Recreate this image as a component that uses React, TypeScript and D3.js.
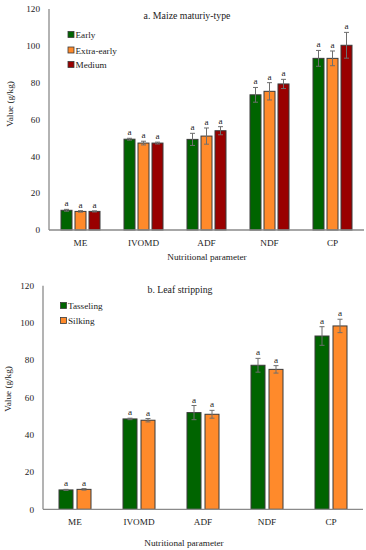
import React from "react";
import * as d3 from "d3";

const categories = ["ME", "IVOMD", "ADF", "NDF", "CP"];
const yTicks = [0, 20, 40, 60, 80, 100, 120];

const seriesA = ["Early", "Extra-early", "Medium"];
const earlyVals = [10.7, 49.3, 49.2, 73.4, 93.2];
const earlyErr = [0.5, 0.5, 3.3, 4.0, 4.3];
const extraEarlyVals = [10.1, 47.2, 51.0, 75.3, 93.2];
const extraEarlyErr = [0.4, 1.0, 4.4, 4.7, 4.0];
const mediumVals = [10.1, 47.2, 53.9, 79.3, 100.3];
const mediumErr = [0.3, 0.5, 2.2, 2.5, 7.0];

const seriesB = ["Tasseling", "Silking"];
const tasselingVals = [10.4, 48.5, 51.9, 77.3, 93.0];
const tasselingErr = [0.3, 0.4, 3.8, 3.7, 5.0];
const silkingVals = [10.7, 47.8, 51.0, 75.1, 98.4];
const silkingErr = [0.4, 0.9, 2.1, 2.0, 3.6];

const GREEN = "#006400";
const ORANGE = "#FF8A2B";
const RED = "#990000";
const FONT = "'Liberation Serif', 'DejaVu Serif', serif";

type Series = { name: string; vals: number[]; err: number[]; color: string };

function Panel(props: {
  title: string;
  titleX: number;
  titleY: number;
  x0: number;
  x1: number;
  yTop: number;
  yBottom: number;
  series: Series[];
  barW: number;
  step: number;
  legendX: number;
  legendY: number[];
  yTitleX: number;
  yTitleY: number;
  tickLabelY: number;
  xTitleY: number;
  xTitleX: number;
}) {
  const p = props;
  const x = d3.scaleBand<string>().domain(categories).range([p.x0, p.x1]);
  const y = d3.scaleLinear().domain([0, 120]).range([p.yBottom, p.yTop]);
  const n = p.series.length;
  return (
    <g fontFamily={FONT} fill="#222">
      {yTicks.map((t) => (
        <text key={t} x={p.x0 - 9} y={y(t) + 3.2} fontSize={9.2} textAnchor="end">
          {t}
        </text>
      ))}
      {p.series.map((s, si) =>
        categories.map((c, ci) => {
          const cx = x(c)! + x.bandwidth() / 2 + (si - (n - 1) / 2) * p.step;
          const v = s.vals[ci];
          const e = s.err[ci];
          return (
            <g key={c + si}>
              <rect
                x={cx - p.barW / 2}
                y={y(v)}
                width={p.barW}
                height={y(0) - y(v)}
                fill={s.color}
                stroke="#3a3a3a"
                strokeWidth={1}
              />
              <line x1={cx} x2={cx} y1={y(v + e)} y2={y(v - e)} stroke="#6e6e6e" strokeWidth={1} />
              <line x1={cx - 2.5} x2={cx + 2.5} y1={y(v + e)} y2={y(v + e)} stroke="#6e6e6e" strokeWidth={1} />
              <line x1={cx - 2.5} x2={cx + 2.5} y1={y(v - e)} y2={y(v - e)} stroke="#6e6e6e" strokeWidth={1} />
              <text x={cx} y={y(v + e) - 3} fontSize={9.2} textAnchor="middle">
                a
              </text>
            </g>
          );
        })
      )}
      <line x1={p.x0} x2={p.x0} y1={p.yTop} y2={p.yBottom} stroke="#8a8a8a" strokeWidth={1.3} />
      <line x1={p.x0} x2={p.x1} y1={p.yBottom} y2={p.yBottom} stroke="#8a8a8a" strokeWidth={1.3} />
      {categories.map((c) => (
        <text key={c} x={x(c)! + x.bandwidth() / 2} y={p.tickLabelY} fontSize={9.2} textAnchor="middle">
          {c}
        </text>
      ))}
      <text x={p.xTitleX} y={p.xTitleY} fontSize={9.2} textAnchor="middle">
        Nutritional parameter
      </text>
      <text
        transform={`translate(${p.yTitleX},${p.yTitleY}) rotate(-90)`}
        fontSize={9.2}
        textAnchor="middle"
      >
        Value (g/kg)
      </text>
      <text x={p.titleX} y={p.titleY} fontSize={9.8} textAnchor="middle">
        {p.title}
      </text>
      {p.series.map((s, i) => (
        <g key={s.name}>
          <rect x={p.legendX} y={p.legendY[i] - 3.5} width={6} height={6} fill={s.color} stroke="#3a3a3a" strokeWidth={0.8} />
          <text x={p.legendX + 7.5} y={p.legendY[i] + 3.2} fontSize={9.2}>
            {s.name}
          </text>
        </g>
      ))}
    </g>
  );
}

export default function App() {
  const sA: Series[] = [
    { name: seriesA[0], vals: earlyVals, err: earlyErr, color: GREEN },
    { name: seriesA[1], vals: extraEarlyVals, err: extraEarlyErr, color: ORANGE },
    { name: seriesA[2], vals: mediumVals, err: mediumErr, color: RED },
  ];
  const sB: Series[] = [
    { name: seriesB[0], vals: tasselingVals, err: tasselingErr, color: GREEN },
    { name: seriesB[1], vals: silkingVals, err: silkingErr, color: ORANGE },
  ];
  return (
    <svg
      width={366}
      height={550}
      style={{ position: "absolute", left: 0, top: 0, background: "#fff" }}
    >
      <rect width={366} height={550} fill="#fff" />
      <Panel
        title="a. Maize maturiy-type"
        titleX={187}
        titleY={18.5}
        x0={49}
        x1={364}
        yTop={9}
        yBottom={230}
        series={sA}
        barW={11}
        step={14}
        legendX={68}
        legendY={[35, 50.5, 65]}
        yTitleX={13}
        yTitleY={104}
        tickLabelY={246}
        xTitleY={260}
        xTitleX={207}
      />
      <Panel
        title="b. Leaf stripping"
        titleX={180}
        titleY={292.5}
        x0={43}
        x1={363}
        yTop={285.7}
        yBottom={509.3}
        series={sB}
        barW={14}
        step={18}
        legendX={60.5}
        legendY={[306, 321]}
        yTitleX={11}
        yTitleY={389}
        tickLabelY={524.5}
        xTitleY={545.5}
        xTitleX={184}
      />
    </svg>
  );
}
